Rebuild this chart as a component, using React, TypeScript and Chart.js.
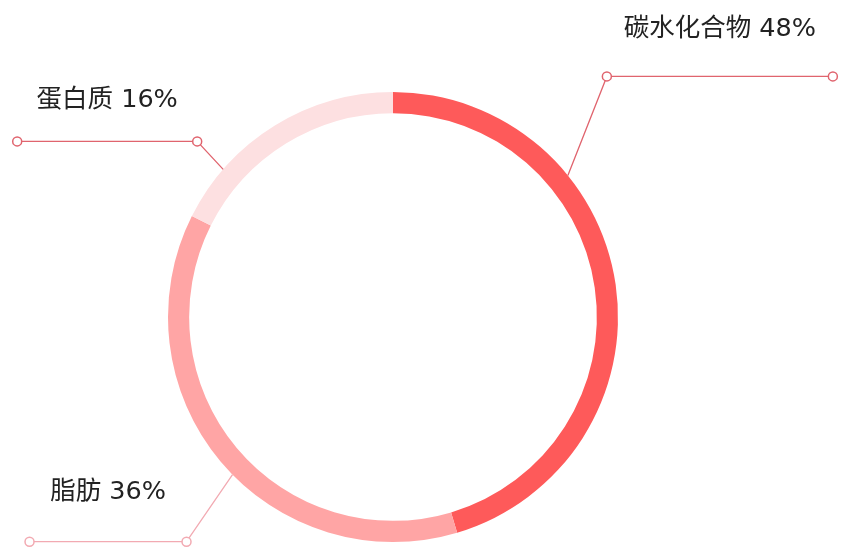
import React, { useEffect, useRef } from "react";
import { Chart, registerables, ChartConfiguration, Plugin } from "chart.js";

Chart.register(...registerables);

const labels = ["碳水化合物", "脂肪", "蛋白质"];
// percentages printed in the labels
const percents = [48, 36, 16];
// arc sizes as drawn in the ring
const arcValues = [45.4, 37.0, 17.6];
const colors = ["#fe5a5a", "#ffa5a5", "#fde0e1"];
const lineColors = ["#e0646e", "#f2aab2", "#e0646e"];

// callout geometry: anchor angle on the ring (deg, clockwise from top),
// elbow offset from the anchor, horizontal run length, text lift above the line
const anchorAngles = [51, 225.5, 311];
const elbowOffsets = [
  [39, -99],
  [-46, 67],
  [-26, -28],
];
const runLengths = [226, -157, -180];
const textLift = [47, 49, 41];

const calloutPlugin: Plugin<"doughnut"> = {
  id: "callouts",
  afterDatasetsDraw(chart) {
    const ctx = chart.ctx;
    const meta = chart.getDatasetMeta(0);
    const arc: any = meta.data[0];
    if (!arc) return;
    const { x: cx, y: cy, outerRadius } = arc.getProps(["x", "y", "outerRadius"], true);
    ctx.save();
    labels.forEach((label, i) => {
      const a = (anchorAngles[i] * Math.PI) / 180;
      const ax = cx + outerRadius * Math.sin(a);
      const ay = cy - outerRadius * Math.cos(a);
      const ex = ax + elbowOffsets[i][0];
      const ey = ay + elbowOffsets[i][1];
      const tx = ex + runLengths[i];

      ctx.strokeStyle = lineColors[i];
      ctx.lineWidth = 1.3;
      ctx.beginPath();
      ctx.moveTo(ax, ay);
      ctx.lineTo(ex, ey);
      ctx.lineTo(tx, ey);
      ctx.stroke();

      [ex, tx].forEach((px) => {
        ctx.beginPath();
        ctx.arc(px, ey, 4.5, 0, Math.PI * 2);
        ctx.fillStyle = "#ffffff";
        ctx.fill();
        ctx.lineWidth = 1.5;
        ctx.stroke();
      });

      ctx.fillStyle = "#222222";
      ctx.font = '25.5px "DejaVu Sans", "Noto Sans CJK SC", sans-serif';
      ctx.textAlign = "center";
      ctx.textBaseline = "middle";
      ctx.fillText(`${label} ${percents[i]}%`, (ex + tx) / 2, ey - textLift[i]);
    });
    ctx.restore();
  },
};

const App: React.FC = () => {
  const canvasRef = useRef<HTMLCanvasElement>(null);
  const chartRef = useRef<Chart<"doughnut"> | null>(null);

  useEffect(() => {
    if (!canvasRef.current) return;
    if (chartRef.current) chartRef.current.destroy();

    const config: ChartConfiguration<"doughnut"> = {
      type: "doughnut",
      data: {
        labels,
        datasets: [
          {
            data: arcValues,
            backgroundColor: colors,
            borderWidth: 0,
          },
        ],
      },
      options: {
        responsive: false,
        animation: false,
        cutout: "90.6%",
        layout: { padding: { left: 168, right: 237, top: 92, bottom: 12 } },
        plugins: {
          legend: { display: false },
          tooltip: { enabled: false },
        },
      },
      plugins: [calloutPlugin],
    };

    chartRef.current = new Chart(canvasRef.current, config);
    return () => {
      chartRef.current?.destroy();
      chartRef.current = null;
    };
  }, []);

  return (
    <div style={{ position: "absolute", left: 0, top: 0, width: 855, height: 554, background: "#ffffff" }}>
      <canvas ref={canvasRef} width={855} height={554} />
    </div>
  );
};

export default App;
